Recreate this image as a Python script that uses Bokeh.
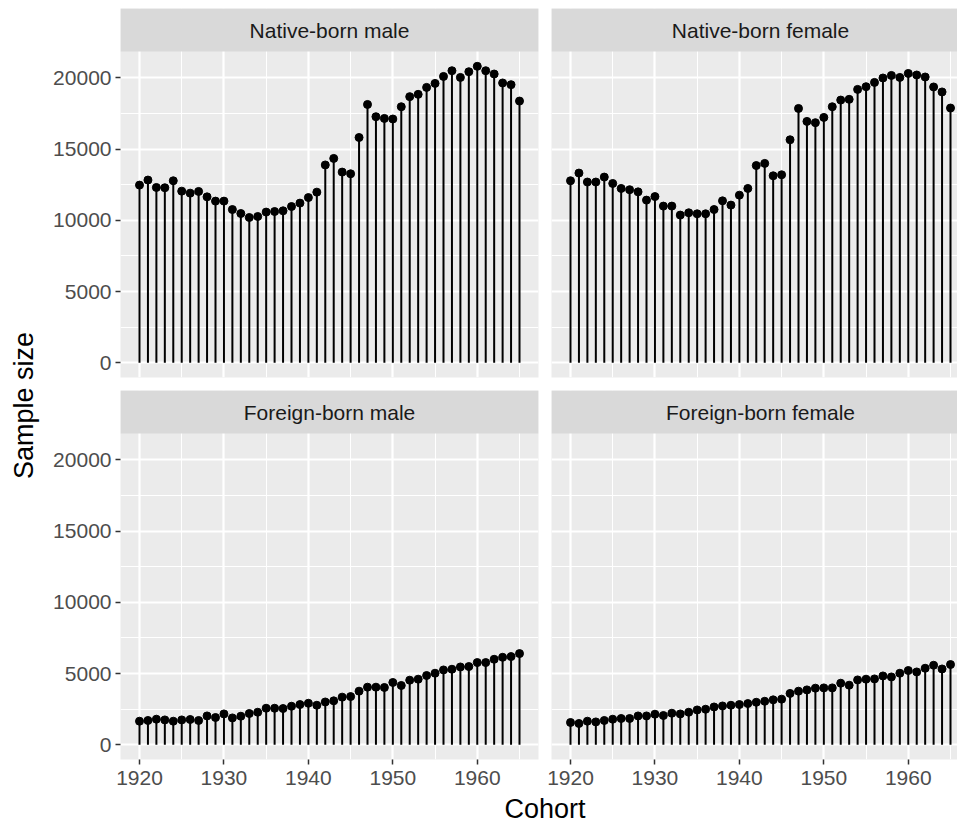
import math
from bokeh.plotting import figure
from bokeh.layouts import row, column
from bokeh.models import Range1d, LinearAxis, Grid, FixedTicker
from bokeh.core.properties import value
from bokeh.embed import file_html
from bokeh.resources import INLINE

# ---------------- data ----------------
cohorts = list(range(1920, 1966))
panel_titles = ["Native-born male", "Native-born female", "Foreign-born male", "Foreign-born female"]

native_male = [12475, 12830, 12310, 12290, 12780, 12050, 11910, 12030, 11650, 11350,
               11350, 10760, 10480, 10200, 10270, 10580, 10620, 10670, 10970, 11210,
               11600, 11980, 13890, 14350, 13390, 13270, 15820, 18140, 17280, 17160,
               17120, 17980, 18690, 18850, 19340, 19620, 20110, 20510, 20040, 20440,
               20820, 20510, 20280, 19650, 19530, 18380]
native_female = [12780, 13320, 12690, 12690, 13040, 12590, 12240, 12150, 12000, 11420,
                 11670, 11000, 11000, 10370, 10530, 10460, 10460, 10760, 11370, 11070,
                 11770, 12240, 13850, 14000, 13130, 13200, 15660, 17860, 16950, 16860,
                 17230, 17980, 18450, 18500, 19200, 19390, 19690, 20000, 20180, 20040,
                 20320, 20210, 20070, 19370, 19020, 17890]
foreign_male = [1650, 1700, 1790, 1740, 1650, 1740, 1770, 1700, 2020, 1910,
                2160, 1880, 2000, 2190, 2280, 2560, 2560, 2540, 2700, 2820,
                2910, 2770, 3000, 3080, 3340, 3380, 3760, 4040, 4040, 4020,
                4370, 4160, 4530, 4600, 4860, 5020, 5250, 5300, 5460, 5490,
                5770, 5770, 6000, 6140, 6190, 6400]
foreign_female = [1560, 1490, 1650, 1600, 1700, 1790, 1840, 1840, 2020, 2020,
                  2140, 2050, 2210, 2160, 2280, 2440, 2490, 2650, 2720, 2770,
                  2820, 2890, 2980, 3050, 3150, 3200, 3600, 3760, 3850, 3970,
                  3990, 3990, 4320, 4180, 4550, 4600, 4620, 4830, 4760, 5020,
                  5210, 5110, 5370, 5580, 5320, 5630]

x_ticks = [1920, 1930, 1940, 1950, 1960]
y_ticks = [0, 5000, 10000, 15000, 20000]
x_title = "Cohort"
y_title = "Sample size"

# ---------------- scales (ggplot-like 5% expansion) ----------------
all_vals = native_male + native_female + foreign_male + foreign_female
ymin, ymax = 0, max(all_vals)
xmin, xmax = min(cohorts), max(cohorts)
yexp = 0.05 * (ymax - ymin)
xexp = 0.05 * (xmax - xmin)
Y0, Y1 = ymin - yexp, ymax + yexp
X0, X1 = xmin - xexp, xmax + xexp

PANEL_W, PANEL_H, STRIP_H = 418, 326, 43
FRAME_H = PANEL_H + STRIP_H
YTOP = Y1 + (Y1 - Y0) * STRIP_H / PANEL_H
RIGHT_W = 406  # right column is cut by the page edge
X1_RIGHT = X0 + (X1 - X0) * RIGHT_W / PANEL_W

x_minor = [t + 5 for t in x_ticks]
y_minor = [t + 2500 for t in y_ticks[:-1]]

FONT = "Liberation Sans"
TICK_PX = "21px"
TITLE_PX = "27px"


def make_panel(title, vals, left, bottom, frame_w, x_end, mb):
    p = figure(frame_width=frame_w, frame_height=FRAME_H,
               x_range=Range1d(X0, x_end), y_range=Range1d(Y0, YTOP),
               x_axis_type=None, y_axis_type=None,
               toolbar_location=None, output_backend="svg", title=None,
               min_border_left=mb[0], min_border_right=mb[1],
               min_border_top=mb[2], min_border_bottom=mb[3])
    p.background_fill_color = "#EBEBEB"
    p.border_fill_color = "white"
    p.outline_line_color = None

    p.add_layout(Grid(dimension=0, ticker=FixedTicker(ticks=x_ticks, minor_ticks=x_minor),
                      grid_line_color="white", grid_line_width=2.2,
                      minor_grid_line_color="white", minor_grid_line_width=1.1))
    p.add_layout(Grid(dimension=1, ticker=FixedTicker(ticks=y_ticks, minor_ticks=y_minor),
                      grid_line_color="white", grid_line_width=2.2,
                      minor_grid_line_color="white", minor_grid_line_width=1.1))

    p.segment(x0=cohorts, y0=[0] * len(cohorts), x1=cohorts, y1=vals,
              line_color="black", line_width=2)
    p.scatter(x=cohorts, y=vals, size=8, color="black")

    # facet strip
    p.quad(left=[X0], right=[x_end], bottom=[Y1], top=[YTOP],
           fill_color="#D9D9D9", line_color=None)
    p.text(x=[(X0 + X1) / 2], y=[(Y1 + YTOP) / 2], text=[title],
           text_align="center", text_baseline="middle",
           text_font=value(FONT), text_font_size=TICK_PX, text_color="#1A1A1A")

    def style(ax):
        ax.axis_line_color = None
        ax.major_tick_in = 0
        ax.major_tick_out = 5
        ax.major_tick_line_color = "#333333"
        ax.major_tick_line_width = 1.5
        ax.minor_tick_line_color = None
        ax.major_label_text_font = FONT
        ax.major_label_text_font_size = TICK_PX
        ax.major_label_text_color = "#4D4D4D"

    if left:
        ya = LinearAxis(ticker=FixedTicker(ticks=y_ticks))
        style(ya)
        ya.major_label_standoff = 4
        p.add_layout(ya, "left")
    if bottom:
        xa = LinearAxis(ticker=FixedTicker(ticks=x_ticks))
        style(xa)
        xa.major_label_standoff = 6
        p.add_layout(xa, "below")
    return p


YLAB_W = 48
TOP_H = 8 + FRAME_H + 6
BOT_H = 7 + FRAME_H + 34

tl = make_panel(panel_titles[0], native_male, True, False, PANEL_W, X1, (72, 6, 8, 6))
tr = make_panel(panel_titles[1], native_female, False, False, RIGHT_W, X1_RIGHT, (7, 0, 8, 6))
bl = make_panel(panel_titles[2], foreign_male, True, True, PANEL_W, X1, (72, 6, 7, 34))
br = make_panel(panel_titles[3], foreign_female, False, True, RIGHT_W, X1_RIGHT, (7, 0, 7, 34))

GRID_H = TOP_H + BOT_H
ylab = figure(width=YLAB_W, height=GRID_H, x_range=Range1d(0, YLAB_W), y_range=Range1d(0, GRID_H),
              x_axis_type=None, y_axis_type=None, toolbar_location=None,
              output_backend="svg", title=None, min_border=0)
ylab.outline_line_color = None
ylab.text(x=[23], y=[GRID_H - 405], text=[y_title], angle=math.pi / 2,
          text_align="center", text_baseline="middle",
          text_font=value(FONT), text_font_size=TITLE_PX, text_color="black")

TOTAL_W = YLAB_W + (72 + PANEL_W + 6) + (7 + RIGHT_W)
XLAB_H = 823 - GRID_H
xlab = figure(width=TOTAL_W, height=XLAB_H, x_range=Range1d(0, TOTAL_W), y_range=Range1d(0, XLAB_H),
              x_axis_type=None, y_axis_type=None, toolbar_location=None,
              output_backend="svg", title=None, min_border=0)
xlab.outline_line_color = None
xlab.text(x=[544.5], y=[XLAB_H / 2], text=[x_title],
          text_align="center", text_baseline="middle",
          text_font=value(FONT), text_font_size=TITLE_PX, text_color="black")

layout = column(row(ylab, column(row(tl, tr), row(bl, br))), xlab)

open("out.html", "w").write(file_html(layout, INLINE))
